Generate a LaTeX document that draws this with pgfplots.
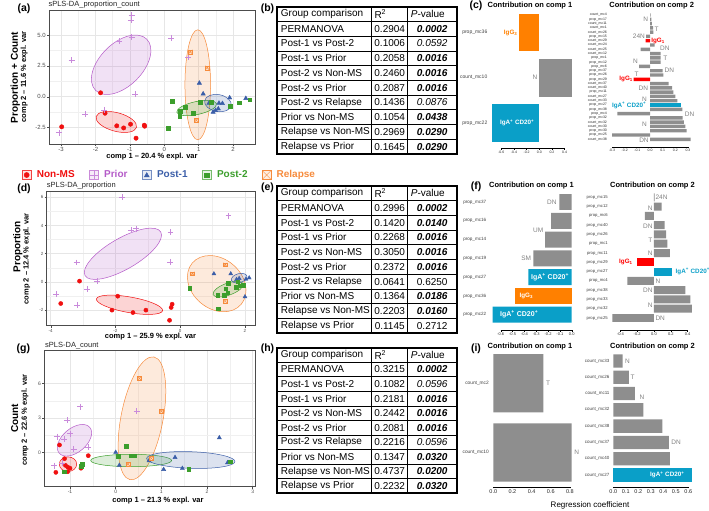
\documentclass[border=0pt]{standalone}
\usepackage{pgfplots}
\pgfplotsset{compat=1.18}
\usepackage{fontspec}
\setmainfont{Liberation Sans}

\definecolor{cNon}{HTML}{F01010}
\definecolor{cPrior}{HTML}{B45AC8}
\definecolor{cPriorPt}{HTML}{C98ADB}
\definecolor{cPost1}{HTML}{3B5EA8}
\definecolor{cPost2}{HTML}{3C9E2C}
\definecolor{cRel}{HTML}{F68B3C}
\definecolor{barGray}{HTML}{8E8E8E}
\definecolor{barOrange}{HTML}{FF8000}
\definecolor{barCyan}{HTML}{0A9FC8}
\definecolor{barRed}{HTML}{FF0000}
\definecolor{gridc}{HTML}{E6E6E6}
\definecolor{tickc}{HTML}{4D4D4D}

\newcommand{\fs}[1]{\fontsize{#1}{#1}\selectfont}
\newcommand{\sg}[1]{\textbf{\textit{#1}}}
\newcommand{\ns}[1]{\textit{#1}}
\newcommand{\iga}{IgA\textsuperscript{+} CD20\textsuperscript{+}}

\pgfdeclareplotmark{boxx}{%
  \pgfpathrectangle{\pgfpoint{-\pgfplotmarksize}{-\pgfplotmarksize}}{\pgfpoint{2\pgfplotmarksize}{2\pgfplotmarksize}}%
  \pgfusepathqfillstroke
  \pgfpathmoveto{\pgfpoint{-\pgfplotmarksize}{-\pgfplotmarksize}}%
  \pgfpathlineto{\pgfpoint{\pgfplotmarksize}{\pgfplotmarksize}}%
  \pgfpathmoveto{\pgfpoint{-\pgfplotmarksize}{\pgfplotmarksize}}%
  \pgfpathlineto{\pgfpoint{\pgfplotmarksize}{-\pgfplotmarksize}}%
  \pgfusepathqstroke
}

\tikzset{
  glab/.style={font=\fs{6.5}, text=barGray!90!black, inner sep=0.5pt},
  blab/.style={font=\bfseries\fs{6.3}, inner sep=0.5pt},
  tabtxt/.style={font=\fs{10}, inner sep=0pt},
}

\pgfplotsset{
  scat/.style={scale only axis, anchor=south west,
    axis line style={draw=black!70, line width=0.45pt},
    grid=both, major grid style={draw=gridc, line width=0.6pt},
    minor grid style={draw=gridc!60, line width=0.3pt},
    minor tick num=1, minor tick length=0pt,
    tick align=outside, major tick length=2pt,
    tick style={draw=black!70, line width=0.4pt}, tick pos=left,
    tick label style={text=tickc, inner sep=1.2pt},
    /pgf/number format/assume math mode=true},
  barax/.style={scale only axis, anchor=south west, xbar, bar shift=0pt,
    axis x line*=bottom, axis y line*=left,
    x axis line style={draw=none}, y axis line style={draw=none},
    ytick style={draw=none}, xtick style={draw=black, line width=0.3pt},
    tick align=outside, major tick length=1.6pt,
    xticklabel style={/pgf/number format/fixed, /pgf/number format/fixed zerofill,
      /pgf/number format/precision=1, inner sep=1pt, text=black!85},
    yticklabel style={inner sep=0.8pt, text=black!75},
    /pgf/number format/assume math mode=true, clip=false},
  keyNon/.style={legend image code/.code={\draw[draw=cNon!80, fill=cNon!12, line width=0.5pt] (0pt,-4.5pt) rectangle (9pt,4.5pt);
      \draw[only marks, mark=*, mark size=2.6pt, color=cNon] plot coordinates {(4.5pt,0pt)};}},
  keyPrior/.style={legend image code/.code={\draw[draw=cPrior!70, fill=cPrior!12, line width=0.5pt] (0pt,-4.5pt) rectangle (9pt,4.5pt);
      \draw[only marks, mark=+, mark size=4.5pt, color=cPriorPt, line width=0.5pt] plot coordinates {(4.5pt,0pt)};}},
  keyPost1/.style={legend image code/.code={\draw[draw=cPost1!70, fill=cPost1!12, line width=0.5pt] (0pt,-4.5pt) rectangle (9pt,4.5pt);
      \draw[only marks, mark=triangle*, mark size=2.9pt, color=cPost1] plot coordinates {(4.5pt,-0.5pt)};}},
  keyPost2/.style={legend image code/.code={\draw[draw=cPost2!70, fill=cPost2!12, line width=0.5pt] (0pt,-4.5pt) rectangle (9pt,4.5pt);
      \draw[only marks, mark=square*, mark size=2.3pt, color=cPost2] plot coordinates {(4.5pt,0pt)};}},
  keyRel/.style={legend image code/.code={\draw[only marks, mark=boxx, mark size=4.5pt, color=cRel, mark options={fill=cRel!15}, line width=0.5pt] plot coordinates {(4.5pt,0pt)};}},
}

% ellipse inside axis: color, cx, cy, a(pt), b(pt), angle
\newcommand{\gel}[6]{\draw[draw=#1, fill=#1, fill opacity=0.18, line width=0.5pt,
  shift={(axis cs:#2,#3)}, rotate=#6] (0pt,0pt) ellipse [x radius=#4pt, y radius=#5pt];}

\newcommand{\ptable}[3]{%
  \foreach \k in {1,...,9} \draw[line width=0.7pt] (277.3,{#1-\k*#2}) -- (456.7,{#1-\k*#2});
  \draw[line width=0.7pt] (371.7,#1) -- (371.7,{#1-10*#2});
  \draw[line width=0.7pt] (407.7,#1) -- (407.7,{#1-10*#2});
  \draw[line width=1.8pt] (277.3,#1) rectangle (456.7,{#1-10*#2});
  \node[tabtxt, anchor=west] at (280.7,{#1-0.5*#2}) {Group comparison};
  \node[tabtxt, anchor=west] at (374.3,{#1-0.5*#2}) {R\textsuperscript{2}};
  \node[tabtxt, anchor=west] at (410.7,{#1-0.5*#2}) {\textit{P}-value};
  \foreach \nm/\rv/\pv [count=\k] in {#3} {
    \node[tabtxt, anchor=west] at (280.7,{#1-(\k+0.5)*#2}) {\nm};
    \node[tabtxt] at (389.7,{#1-(\k+0.5)*#2}) {\rv};
    \node[tabtxt] at (432.2,{#1-(\k+0.5)*#2}) {\pv};
  }
}

\begin{document}
\begin{tikzpicture}
\path[use as bounding box] (0pt,0pt) rectangle (709pt,511pt);

% ================= (a) =================
\begin{axis}[scat, at={(49pt,367pt)}, width=206.7pt, height=134pt,
  xmin=-3.349, xmax=2.657, ymin=-3.82, ymax=7.02,
  xtick={-3,-2,-1,0,1,2}, ytick={-2.5,0,2.5,5},
  yticklabel style={/pgf/number format/fixed, /pgf/number format/fixed zerofill, /pgf/number format/precision=1},
  tick label style={font=\fs{6}}]
\gel{cPrior}{-1.252}{2.59}{36.2}{21.4}{45}
\gel{cNon}{-1.393}{-2.04}{20.9}{9.3}{-15}
\gel{cRel}{0.973}{0.97}{55}{12.8}{90}
\gel{cPost2}{0.941}{-0.914}{20.3}{6.5}{12}
\gel{cPost1}{1.56}{-0.51}{13.5}{8.5}{-10}
\addplot[only marks, mark=*, mark size=2.2pt, color=cNon] coordinates {
 (-1.85,0.32) (-1.72,-1.33) (-2.98,-2.43) (-1.38,-2.35) (-1.18,-2.52) (-0.98,-2.22) (-0.58,-2.30) (-0.57,-2.38) (-0.82,-3.35)};
\addplot[only marks, mark=+, mark size=3pt, color=cPriorPt, line width=0.5pt] coordinates {
 (-0.95,6.6) (-0.97,6.2) (-1.32,4.5) (-0.95,4.84) (-2.69,2.95) (0.21,4.76) (-0.85,0.22) (-1.74,-1.05) (-2.30,-1.41) (-3.06,-2.9) (0.70,3.2)};
\addplot[only marks, mark=triangle*, mark size=2.5pt, color=cPost1] coordinates {
 (1.02,1.11) (1.13,0.24) (1.59,-0.51) (1.69,-0.54) (1.90,-0.08) (1.49,-1.1) (1.42,-1.24) (1.30,-0.51) (1.57,-0.97) (2.37,-0.13)};
\addplot[only marks, mark=square*, mark size=1.9pt, color=cPost2] coordinates {
 (0.23,-0.38) (0.61,-0.87) (0.47,-1.14) (0.45,-1.54) (0.84,-1.33) (1.04,-0.41) (1.37,-0.46) (1.91,-0.78) (0.12,-2.54) (2.18,-0.48) (2.48,-0.24)};
\addplot[only marks, mark=boxx, mark size=2pt, color=cRel, mark options={fill=cRel!25}, line width=0.5pt] coordinates {
 (0.76,3.63) (1.25,2.34) (0.93,-1.89)};
\end{axis}

% ================= (d) =================
\begin{axis}[scat, at={(46.7pt,185.3pt)}, width=208.3pt, height=134pt,
  xmin=-4.124, xmax=2.309, ymin=-3.114, ymax=6.397,
  xtick={-4,-2,0,2}, ytick={-2,0,2,4,6},
  tick label style={font=\fs{4.5}},
  legend style={at={(-0.12,1.1246)}, anchor=west, draw=none, fill=none, inner sep=0pt,
    legend columns=5, font=\bfseries\fs{10}, nodes={inner sep=0pt},
    /tikz/every odd column/.append style={column sep=5.5pt},
    /tikz/every even column/.append style={column sep=14.5pt}},
  legend cell align=left]
\gel{cPrior}{-1.77}{1.99}{43.7}{15.5}{30}
\gel{cNon}{-1.566}{-1.63}{33.6}{7.8}{-10}
\gel{cRel}{1.127}{-0.13}{32}{25}{-40}
\gel{cPost2}{1.48}{-0.52}{16}{6}{20}
\gel{cPost1}{1.82}{0.26}{8}{4.5}{15}
\addplot[only marks, mark=*, mark size=2.1pt, color=cNon, keyNon] coordinates {
 (-3.11,0.05) (-3.69,-1.54) (-1.93,-1.02) (-2.11,-2.01) (-1.46,-2.18) (-1.06,-2.01) (-0.25,-1.59) (-0.28,-1.82) (-0.33,-2.73)};
\addlegendentry{\textcolor{cNon}{Non-MS}}
\addplot[only marks, mark=+, mark size=2.9pt, color=cPriorPt, line width=0.5pt, keyPrior] coordinates {
 (-1.80,6.0) (-1.51,3.67) (-1.37,3.77) (-0.30,3.53) (-0.31,1.42) (-3.20,1.37) (-2.56,0.05) (-2.87,-0.5) (-3.83,-0.88) (-3.18,-1.66) (1.49,4.69)};
\addlegendentry{\textcolor{cPrior}{Prior}}
\addplot[only marks, mark=triangle*, mark size=2.3pt, color=cPost1, keyPost1] coordinates {
 (1.04,0.57) (1.56,0.57) (1.74,0.17) (1.82,0.24) (2.03,0.19) (2.13,0.28) (2.0,-1.06)};
\addlegendentry{\textcolor{cPost1}{Post-1}}
\addplot[only marks, mark=square*, mark size=1.8pt, color=cPost2, keyPost2] coordinates {
 (0.29,-0.47) (1.49,-0.11) (1.77,0.0) (1.72,-0.4) (1.41,-0.5) (1.46,-0.78) (1.16,-0.97) (1.36,-0.97) (1.18,-1.92) (1.85,-0.28) (1.94,-0.23)};
\addlegendentry{\textcolor{cPost2}{Post-2}}
\addplot[only marks, mark=boxx, mark size=1.9pt, color=cRel, mark options={fill=cRel!25}, line width=0.5pt, keyRel] coordinates {
 (0.38,0.57) (1.39,1.21) (1.39,-1.37)};
\addlegendentry{\textcolor{cRel}{Relapse}}
\end{axis}

% ================= (g) =================
\begin{axis}[scat, at={(44.3pt,24.3pt)}, width=210.7pt, height=136.7pt,
  xmin=-1.563, xmax=3.051, ymin=-2.957, ymax=8.93,
  xtick={-1,0,1,2,3}, ytick={0,3,6},
  tick label style={font=\fs{5}}]
\gel{cPrior}{-0.902}{1.08}{20}{12}{40}
\gel{cNon}{-1.044}{-1.0}{8.7}{7.3}{0}
\gel{cRel}{0.576}{2.99}{62.5}{21}{79}
\gel{cPost2}{0.339}{-0.678}{40.5}{6.2}{0}
\gel{cPost1}{1.644}{-0.635}{44.2}{8.3}{-2}
\addplot[only marks, mark=*, mark size=2.1pt, color=cNon] coordinates {
 (-1.23,0.67) (-0.60,-0.26) (-1.12,-0.52) (-1.10,-1.1) (-1.05,-1.25) (-1.0,-1.35) (-1.05,-1.65) (-1.31,-1.71) (-0.76,-1.35)};
\addplot[only marks, mark=+, mark size=3pt, color=cPriorPt, line width=0.5pt] coordinates {
 (-0.78,4.0) (-1.07,2.81) (-1.29,1.39) (-1.13,1.19) (-1.0,1.65) (-0.92,0.29) (-0.60,0.49) (-1.34,-1.13) (-1.17,-0.93) (0.46,3.62)};
\addplot[only marks, mark=triangle*, mark size=2.4pt, color=cPost1] coordinates {
 (0.0,0.03) (0.08,-1.1) (0.73,-0.70) (1.30,-0.41) (1.05,-1.45) (1.46,-1.36) (2.27,1.30) (2.45,-0.87)};
\addplot[only marks, mark=square*, mark size=1.9pt, color=cPost2] coordinates {
 (-1.12,-1.65) (-0.73,-1.01) (-0.75,-1.15) (0.23,0.58) (0.06,-0.29) (0.34,-0.26) (0.40,-0.26) (0.78,-0.49) (1.60,-1.42) (2.51,-0.78)};
\addplot[only marks, mark=boxx, mark size=2pt, color=cRel, mark options={fill=cRel!25}, line width=0.5pt] coordinates {
 (0.52,6.46) (1.0,3.62) (0.27,-1.01) (0.78,-0.49)};
\end{axis}

% ================= (c) comp 1 =================
\begin{axis}[barax, at={(489.9pt,363pt)}, width=84.2pt, height=138.1pt,
  xmin=-0.78, xmax=0.55, ymin=0.445, ymax=3.5, bar width=0.84,
  xtick={-0.6,-0.4,-0.2,0,0.2,0.4}, ytick={1,2,3},
  yticklabels={prop\_mc22,count\_mc10,prop\_mc36},
  xticklabel style={font=\fs{3.5}}, yticklabel style={font=\fs{5}}]
\addplot[fill=barGray, draw=none] coordinates {(0.52,2)};
\addplot[fill=barOrange, draw=none] coordinates {(-0.32,3)};
\addplot[fill=barCyan, draw=none] coordinates {(-0.74,1)};
\draw[line width=0.3pt] (axis cs:-0.6,0.445) -- (axis cs:0.4,0.445);
\node[blab, text=barOrange, anchor=east] at (axis cs:-0.335,3) {IgG\textsubscript{3}};
\node[glab, anchor=east] at (axis cs:-0.02,2) {N};
\node[blab, text=white] at (axis cs:-0.35,1) {\iga};
\end{axis}

% ================= (c) comp 2 =================
\begin{axis}[barax, at={(609.5pt,364.3pt)}, width=86.1pt, height=136.7pt,
  xmin=-0.32, xmax=0.36, ymin=-0.727, ymax=31.17, bar width=0.8,
  xtick={-0.3,-0.2,-0.1,0,0.1,0.2,0.3}, ytick={1,...,30},
  yticklabels={count\_mc38,prop\_mc25,prop\_mc30,count\_mc30,count\_mc32,prop\_mc32,prop\_mc4,prop\_mc38,prop\_mc27,count\_mc33,count\_mc27,prop\_mc11,count\_mc40,count\_mc37,prop\_mc29,prop\_mc26,prop\_mc37,prop\_mc6,prop\_mc12,prop\_mc1,count\_mc12,count\_mc25,count\_mc24,count\_mc29,prop\_mc15,count\_mc26,count\_mc1,count\_mc11,prop\_mc17,count\_mc4},
  xticklabel style={font=\fs{3.5}}, yticklabel style={font=\fs{3.5}, text=black!85}]
\addplot[fill=barGray, draw=none] coordinates {
 (0.32,1) (-0.30,2) (0.29,3) (0.28,4) (0.268,5) (0.258,6) (-0.258,7) (0.255,8) (0.216,10) (0.2,11) (0.184,12) (0.174,13) (0.147,14) (0.105,16) (0.1,17) (-0.087,18) (0.084,19) (0.084,20) (0.084,21) (-0.074,22) (0.037,23) (-0.03,25) (0.026,26) (0.024,27) (0.015,28) (0.01,29) (0.005,30)};
\addplot[fill=barCyan, draw=none] coordinates {(0.242,9)};
\addplot[fill=barRed, draw=none] coordinates {(-0.13,15) (-0.035,24)};
\draw[line width=0.3pt] (axis cs:-0.3,-0.727) -- (axis cs:0.3,-0.727);
\node[glab, anchor=east] at (axis cs:-0.01,29) {N};
\node[glab, anchor=west] at (axis cs:0.03,26.7) {T};
\node[glab, anchor=east] at (axis cs:-0.035,25) {24N};
\node[blab, text=barRed, anchor=west] at (axis cs:0.005,24) {IgG\textsubscript{1}};
\node[glab, anchor=west] at (axis cs:0.075,22.2) {DN};
\node[glab, anchor=west] at (axis cs:0.1,19.9) {T};
\node[glab, anchor=east] at (axis cs:-0.09,19.1) {N};
\node[glab, anchor=west] at (axis cs:0.11,17.1) {DN};
\node[glab, anchor=east] at (axis cs:-0.085,16.2) {T};
\node[blab, text=barRed, anchor=east] at (axis cs:-0.13,15) {IgG\textsubscript{1}};
\node[glab, anchor=east] at (axis cs:-0.01,12.9) {DN};
\node[glab, anchor=east] at (axis cs:-0.02,10.4) {N};
\node[blab, text=barCyan, anchor=east] at (axis cs:-0.025,8.9) {\iga};
\node[glab, anchor=west] at (axis cs:0.27,6.9) {DN};
\node[glab, anchor=east] at (axis cs:-0.02,4.5) {N};
\node[glab, anchor=east] at (axis cs:-0.005,0.8) {DN};
\end{axis}

% ================= (f) comp 1 =================
\begin{axis}[barax, at={(488.9pt,181pt)}, width=85.2pt, height=140pt,
  xmin=-0.70, xmax=0.02, ymin=0.185, ymax=7.64, bar width=0.85,
  xtick={-0.6,-0.5,-0.4,-0.3,-0.2,-0.1,0}, ytick={1,...,7},
  yticklabels={prop\_mc22,prop\_mc36,prop\_mc27,prop\_mc19,prop\_mc14,prop\_mc16,prop\_mc37},
  xticklabel style={font=\fs{4}}, yticklabel style={font=\fs{4.6}}]
\addplot[fill=barGray, draw=none] coordinates {(-0.324,4) (-0.225,5) (-0.175,6) (-0.104,7)};
\addplot[fill=barCyan, draw=none] coordinates {(-0.668,1) (-0.366,3)};
\addplot[fill=barOrange, draw=none] coordinates {(-0.476,2)};
\draw[line width=0.3pt] (axis cs:-0.6,0.185) -- (axis cs:0,0.185);
\node[glab, anchor=east] at (axis cs:-0.122,7) {DN};
\node[glab, anchor=east] at (axis cs:-0.234,5.47) {UM};
\node[glab, anchor=east] at (axis cs:-0.338,4) {SM};
\node[blab, text=white, font=\bfseries\fs{7}] at (axis cs:-0.183,3) {\iga};
\node[blab, text=white] at (axis cs:-0.384,2) {IgG\textsubscript{3}};
\node[blab, text=white, font=\bfseries\fs{7}] at (axis cs:-0.444,1) {\iga};
\end{axis}

% ================= (f) comp 2 =================
\begin{axis}[barax, at={(610.3pt,181pt)}, width=85.7pt, height=140pt,
  xmin=-0.52, xmax=0.5, ymin=-0.293, ymax=14.79, bar width=0.86,
  xtick={-0.4,-0.2,0,0.2,0.4}, ytick={1,...,14},
  yticklabels={prop\_mc25,prop\_mc32,prop\_mc33,prop\_mc38,prop\_mc4,prop\_mc27,prop\_mc29,prop\_mc11,prop\_mc1,prop\_mc26,prop\_mc40,prop\_mc6,prop\_mc12,prop\_mc15},
  xticklabel style={font=\fs{4}}, yticklabel style={font=\fs{4.2}}]
\addplot[fill=barGray, draw=none] coordinates {
 (-0.496,1) (0.452,2) (0.432,3) (0.372,4) (-0.316,5) (0.19,8) (0.16,9) (0.145,10) (0.125,11) (-0.11,12) (0.09,13) (0.008,14)};
\addplot[fill=barCyan, draw=none] coordinates {(0.22,6)};
\addplot[fill=barRed, draw=none] coordinates {(-0.2,7)};
\draw[line width=0.3pt] (axis cs:-0.4,-0.293) -- (axis cs:0.4,-0.293);
\node[glab, anchor=west] at (axis cs:0.01,14) {24N};
\node[glab, anchor=east] at (axis cs:-0.01,12.8) {N};
\node[glab, anchor=east] at (axis cs:-0.01,10.9) {DN};
\node[glab, anchor=east] at (axis cs:-0.01,9.4) {T};
\node[glab, anchor=east] at (axis cs:-0.01,8) {N};
\node[blab, text=barRed, anchor=east] at (axis cs:-0.246,7) {IgG\textsubscript{1}};
\node[blab, text=barCyan, anchor=west] at (axis cs:0.25,6) {\iga};
\node[glab, anchor=west] at (axis cs:0.01,5) {N};
\node[glab, anchor=east] at (axis cs:-0.01,4) {DN};
\node[glab, anchor=east] at (axis cs:-0.01,2.4) {N};
\node[glab, anchor=west] at (axis cs:0.01,1) {DN};
\end{axis}

% ================= (i) comp 1 =================
\begin{axis}[barax, at={(491.4pt,24.3pt)}, width=83.3pt, height=136.7pt,
  xmin=-0.02, xmax=0.85, ymin=0.506, ymax=2.481, bar width=0.84,
  xtick={0,0.2,0.4,0.6,0.8}, ytick={1,2},
  yticklabels={count\_mc10,count\_mc2},
  xticklabel style={font=\fs{5.5}}, yticklabel style={font=\fs{4.8}}]
\addplot[fill=barGray, draw=none] coordinates {(0.817,1) (0.522,2)};
\draw[line width=0.3pt] (axis cs:0,0.506) -- (axis cs:0.8,0.506);
\node[glab, anchor=west] at (axis cs:0.545,2) {T};
\node[glab, anchor=west] at (axis cs:0.84,1) {N};
\end{axis}

% ================= (i) comp 2 =================
\begin{axis}[barax, at={(612.05pt,24.3pt)}, width=82.5pt, height=136.7pt,
  xmin=-0.01, xmax=0.65, ymin=0.282, ymax=8.675, bar width=0.82,
  xtick={0,0.1,0.2,0.3,0.4,0.5,0.6}, ytick={1,...,8},
  yticklabels={count\_mc27,count\_mc40,count\_mc37,count\_mc38,count\_mc32,count\_mc11,count\_mc26,count\_mc33},
  xticklabel style={font=\fs{5.5}}, yticklabel style={font=\fs{4.5}}]
\addplot[fill=barGray, draw=none] coordinates {(0.453,2) (0.445,3) (0.392,4) (0.24,5) (0.173,6) (0.125,7) (0.075,8)};
\addplot[fill=barCyan, draw=none] coordinates {(0.627,1)};
\draw[line width=0.3pt] (axis cs:0,0.282) -- (axis cs:0.6,0.282);
\node[glab, anchor=west] at (axis cs:0.088,8) {N};
\node[glab, anchor=west] at (axis cs:0.133,7) {T};
\node[glab, anchor=west] at (axis cs:0.205,5.75) {N};
\node[glab, anchor=west] at (axis cs:0.459,3) {DN};
\node[blab, text=white] at (axis cs:0.432,1) {\iga};
\end{axis}

% ================= text, tables =================
\begin{scope}[x=1pt, y=1pt]
% panel labels
\foreach \lab/\px/\py in {a/24/502.3, b/267.5/502.7, c/476/505, d/24/322, e/267.5/323, f/476/324, g/23.3/161.7, h/267.5/162.5, i/476/162.5}
  \node[font=\bfseries\fs{10.5}, inner sep=0pt] at (\px,\py) {(\lab)};
% scatter titles
\node[anchor=west, inner sep=0pt, font=\fs{7.5}, text=black!85] at (48.3,506) {sPLS-DA\_proportion\_count};
\node[anchor=west, inner sep=0pt, font=\fs{7.5}, text=black!85] at (46.7,325) {sPLS-DA\_proportion};
\node[anchor=west, inner sep=0pt, font=\fs{7.5}, text=black!85] at (45,165.3) {sPLS-DA\_count};
% x labels
\node[inner sep=0pt, font=\bfseries\fs{7.5}] at (152,354.6) {comp 1 -- 20.4 \% expl. var};
\node[inner sep=0pt, font=\bfseries\fs{7.5}] at (150.5,174.6) {comp 1 -- 25.9 \% expl. var};
\node[inner sep=0pt, font=\bfseries\fs{7.5}] at (158,10) {comp 1 -- 21.3 \% expl. var};
% y labels
\node[inner sep=0pt, font=\bfseries\fs{7.5}, rotate=90] at (24.2,434) {comp 2 -- 11.6 \% expl. var};
\node[inner sep=0pt, font=\bfseries\fs{10}, rotate=90] at (15.3,433.5) {Proportion + Count};
\node[inner sep=0pt, font=\bfseries\fs{7.5}, rotate=90] at (26.7,252.3) {comp 2 -- 12.4 \% expl. var};
\node[inner sep=0pt, font=\bfseries\fs{10}, rotate=90] at (17.8,264.3) {Proportion};
\node[inner sep=0pt, font=\bfseries\fs{7.5}, rotate=90] at (25,91) {comp 2 -- 22.6 \% expl. var};
\node[inner sep=0pt, font=\bfseries\fs{10}, rotate=90] at (14.8,92.7) {Count};
% bar titles
\foreach \px/\py/\t in {530/505/1, 651.7/505/2, 531.5/325/1, 652.5/325/2, 530/164.3/1, 652.5/164.3/2}
  \node[inner sep=0pt, font=\bfseries\fs{7.5}] at (\px,\py) {Contribution on comp \t};
\node[inner sep=0pt, font=\fs{8}] at (590,5.3) {Regression coefficient};
% tables
\ptable{504.3}{14.73}{PERMANOVA/0.2904/\sg{0.0002}, Post-1 vs Post-2/0.1006/\ns{0.0592}, Post-1 vs Prior/0.2058/\sg{0.0016}, Post-2 vs Non-MS/0.2460/\sg{0.0016}, Post-2 vs Prior/0.2087/\sg{0.0016}, Post-2 vs Relapse/0.1436/\ns{0.0876}, Prior vs Non-MS/0.1054/\sg{0.0438}, Relapse vs Non-MS/0.2969/\sg{0.0290}, Relapse vs Prior/0.1645/\sg{0.0290}}
\ptable{325.3}{14.76}{PERMANOVA/0.2996/\sg{0.0002}, Post-1 vs Post-2/0.1420/\sg{0.0140}, Post-1 vs Prior/0.2268/\sg{0.0016}, Post-2 vs Non-MS/0.3050/\sg{0.0016}, Post-2 vs Prior/0.2372/\sg{0.0016}, Post-2 vs Relapse/0.0641/0.6250, Prior vs Non-MS/0.1364/\sg{0.0186}, Relapse vs Non-MS/0.2203/\sg{0.0160}, Relapse vs Prior/0.1145/0.2712}
\ptable{163.3}{14.56}{PERMANOVA/0.3215/\sg{0.0002}, Post-1 vs Post-2/0.1082/\ns{0.0596}, Post-1 vs Prior/0.2181/\sg{0.0016}, Post-2 vs Non-MS/0.2442/\sg{0.0016}, Post-2 vs Prior/0.2081/\sg{0.0016}, Post-2 vs Relapse/0.2216/\ns{0.0596}, Prior vs Non-MS/0.1347/\sg{0.0320}, Relapse vs Non-MS/0.4737/\sg{0.0200}, Relapse vs Prior/0.2232/\sg{0.0320}}
\end{scope}
\end{tikzpicture}
\end{document}
